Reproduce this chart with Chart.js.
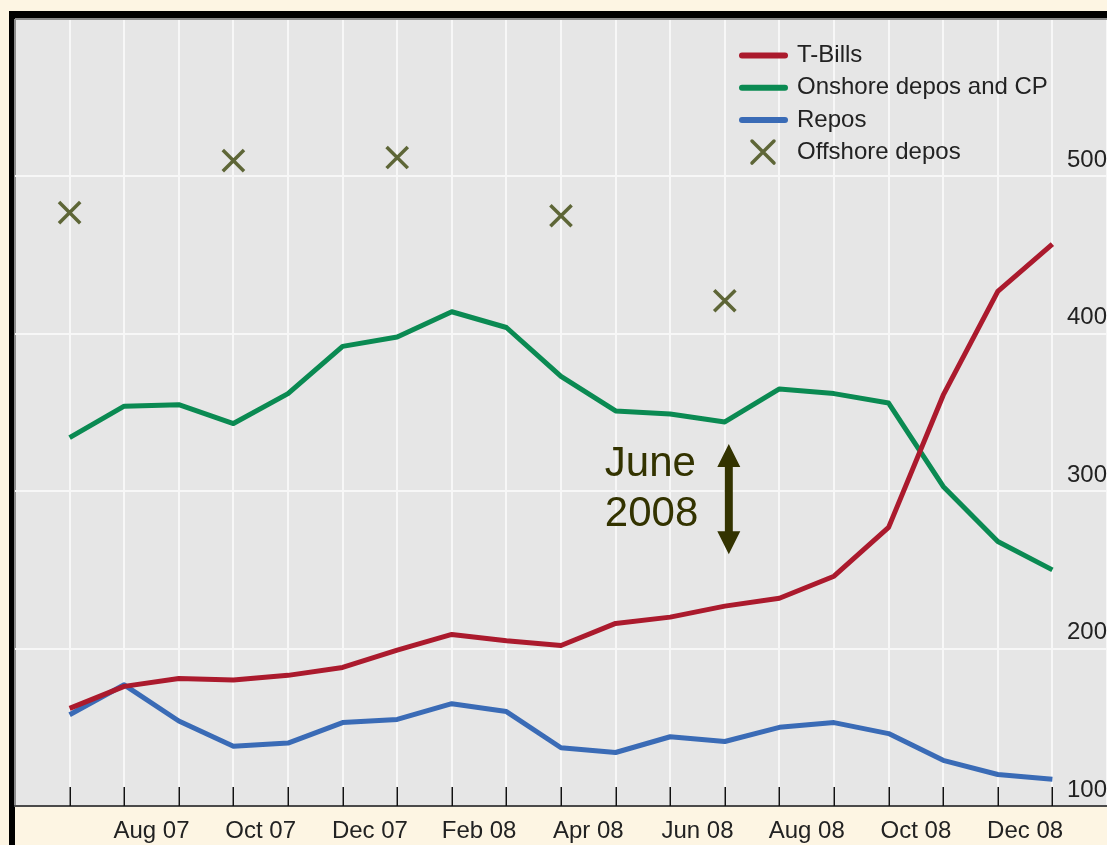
<!DOCTYPE html>
<html>
<head>
<meta charset="utf-8">
<script src="https://cdn.jsdelivr.net/npm/chart.js@4.4.0/dist/chart.umd.min.js"></script>
<style>
  html, body { margin: 0; padding: 0; background: #fdf5e3; }
  canvas { display: block; }
</style>
</head>
<body>
<canvas id="chart" width="1107" height="845"></canvas>
<script>
// month intervals between the 19 month-end points, every other one is labelled
const intervalLabels = ['Jul 07', 'Aug 07', 'Sep 07', 'Oct 07', 'Nov 07', 'Dec 07', 'Jan 08', 'Feb 08', 'Mar 08',
  'Apr 08', 'May 08', 'Jun 08', 'Jul 08', 'Aug 08', 'Sep 08', 'Oct 08', 'Nov 08', 'Dec 08']
const yTickValues = [100, 200, 300, 400, 500, 600]

const tBills   = [162, 176, 181, 180, 183, 188, 199, 209, 205, 202, 216, 220, 227, 232, 246, 277, 361, 427, 457]
const onshore  = [334, 354, 355, 343, 362, 392, 398, 414, 404, 373, 351, 349, 344, 365, 362, 356, 303, 268, 250]
const repos    = [158, 177, 154, 138, 140, 153, 155, 165, 160, 137, 134, 144, 141, 150, 153, 146, 129, 120, 117]
const offshore = [477, null, null, 510, null, null, 512, null, null, 475, null, null, 421, null, null, null, null, null, null]

const RED = '#ab1a2d'
const GREEN = '#0a8a52'
const BLUE = '#3a6bb6'
const OLIVE = '#5e6637'
const FONT = { family: '"Liberation Sans", Arial, sans-serif', size: 24 }

const toPoints = (arr) => arr.map((v, i) => ({ x: i, y: v })).filter(p => p.y !== null)

// drop the label overflow padding chart.js adds, so the plot runs to the edges
const noPad = (s) => { s.paddingLeft = 0; s.paddingRight = 0; s.paddingTop = 0; s.paddingBottom = 0 }

const framePlugin = {
  id: 'frame',
  beforeDraw(chart) {
    const { ctx, chartArea: a } = chart
    ctx.save()
    ctx.fillStyle = '#e6e6e6'
    ctx.fillRect(a.left, a.top, chart.width - a.left, a.bottom - a.top)
    ctx.fillStyle = '#000'
    ctx.fillRect(9, 11, chart.width - 9, a.top - 11)
    ctx.fillRect(9, 11, a.left - 9, chart.height - 11)
    ctx.restore()
  },
  beforeDatasetsDraw(chart) {
    // short tick marks pointing up into the plot
    const { ctx, chartArea: a, scales: { x } } = chart
    ctx.save()
    ctx.strokeStyle = '#111'
    ctx.lineWidth = 1.5
    for (let i = 0; i < tBills.length; i++) {
      const px = Math.round(x.getPixelForValue(i)) + 0.25
      ctx.beginPath()
      ctx.moveTo(px, a.bottom - 19)
      ctx.lineTo(px, a.bottom)
      ctx.stroke()
    }
    ctx.restore()
  }
}

const annotationPlugin = {
  id: 'june2008',
  afterDatasetsDraw(chart) {
    const { ctx, scales: { x, y } } = chart
    const px = x.getPixelForValue(12) + 4
    const top = y.getPixelForValue(330)
    const bot = y.getPixelForValue(260)
    const head = 23, half = 11.5, shaft = 4
    ctx.save()
    ctx.fillStyle = '#333300'
    ctx.beginPath()
    ctx.moveTo(px, top)
    ctx.lineTo(px + half, top + head)
    ctx.lineTo(px + shaft, top + head)
    ctx.lineTo(px + shaft, bot - head)
    ctx.lineTo(px + half, bot - head)
    ctx.lineTo(px, bot)
    ctx.lineTo(px - half, bot - head)
    ctx.lineTo(px - shaft, bot - head)
    ctx.lineTo(px - shaft, top + head)
    ctx.lineTo(px - half, top + head)
    ctx.closePath()
    ctx.fill()
    ctx.font = '42px "Liberation Sans", Arial, sans-serif'
    ctx.textAlign = 'left'
    ctx.textBaseline = 'alphabetic'
    ctx.fillText('June', px - 124, top + 32)
    ctx.fillText('2008', px - 124, top + 82)
    ctx.restore()
  }
}

const legendPlugin = {
  id: 'cornerLegend',
  afterDraw(chart) {
    const { ctx } = chart
    ctx.save()
    ctx.font = '24px "Liberation Sans", Arial, sans-serif'
    ctx.textBaseline = 'middle'
    ctx.textAlign = 'left'
    chart.data.datasets.forEach((ds, i) => {
      const cy = 55.5 + i * 32.2
      ctx.strokeStyle = ds.borderColor
      if (ds.showLine === false) {
        ctx.lineWidth = 3.5
        ctx.beginPath()
        ctx.moveTo(752, cy - 11); ctx.lineTo(774, cy + 11)
        ctx.moveTo(774, cy - 11); ctx.lineTo(752, cy + 11)
        ctx.stroke()
      } else {
        ctx.lineWidth = 6
        ctx.lineCap = 'round'
        ctx.beginPath()
        ctx.moveTo(742, cy); ctx.lineTo(785, cy)
        ctx.stroke()
      }
      ctx.fillStyle = '#222'
      ctx.fillText(ds.label, 797, cy)
    })
    ctx.restore()
  }
}

new Chart(document.getElementById('chart'), {
  type: 'line',
  data: {
    datasets: [
      { label: 'T-Bills', data: toPoints(tBills), borderColor: RED, borderWidth: 5, pointRadius: 0 },
      { label: 'Onshore depos and CP', data: toPoints(onshore), borderColor: GREEN, borderWidth: 5, pointRadius: 0 },
      { label: 'Repos', data: toPoints(repos), borderColor: BLUE, borderWidth: 5, pointRadius: 0 },
      { label: 'Offshore depos', data: toPoints(offshore), showLine: false, borderColor: OLIVE,
        backgroundColor: OLIVE, pointStyle: 'crossRot', pointRadius: 15, pointBorderWidth: 3.5 }
    ]
  },
  options: {
    responsive: false,
    animation: false,
    layout: { autoPadding: false, padding: { left: 15, top: 19, right: 0, bottom: 0 } },
    plugins: { legend: { display: false }, tooltip: { enabled: false } },
    elements: { line: { tension: 0, borderJoinStyle: 'round' } },
    scales: {
      x: {
        type: 'linear', position: 'bottom', min: -1, max: 19,
        ticks: { stepSize: 1, display: false },
        grid: { color: c => c.tick && c.tick.value === -1 ? '#8c8c8c' : '#f7f7f7', lineWidth: 2, drawTicks: false },
        border: { display: false },
        afterFit: s => { s.height = 0; noPad(s) }
      },
      xl: {
        type: 'linear', position: 'bottom', min: -1, max: 19,
        afterBuildTicks: s => {
          s.ticks = intervalLabels.map((l, i) => ({ value: i + 0.5 })).filter((t, i) => i % 2 === 1)
        },
        ticks: { callback: v => intervalLabels[v - 0.5], font: FONT, color: '#222', padding: 3,
          maxRotation: 0, autoSkip: false },
        grid: { display: false },
        border: { display: true, color: '#4a4a4a', width: 2 },
        afterFit: s => { s.height = 39; noPad(s) }
      },
      y: {
        type: 'linear', position: 'right', min: 100, max: 600,
        afterBuildTicks: s => { s.ticks = yTickValues.map(v => ({ value: v })) },
        ticks: { mirror: true, padding: 0, labelOffset: -16, font: FONT, color: '#222',
          callback: v => v === 600 ? '' : v },
        grid: { color: c => c.tick && c.tick.value === 600 ? '#8c8c8c' : '#f7f7f7', lineWidth: 2, drawTicks: false },
        border: { display: false },
        afterFit: s => { s.width = 0; noPad(s) }
      }
    }
  },
  plugins: [framePlugin, annotationPlugin, legendPlugin]
})
</script>
</body>
</html>
